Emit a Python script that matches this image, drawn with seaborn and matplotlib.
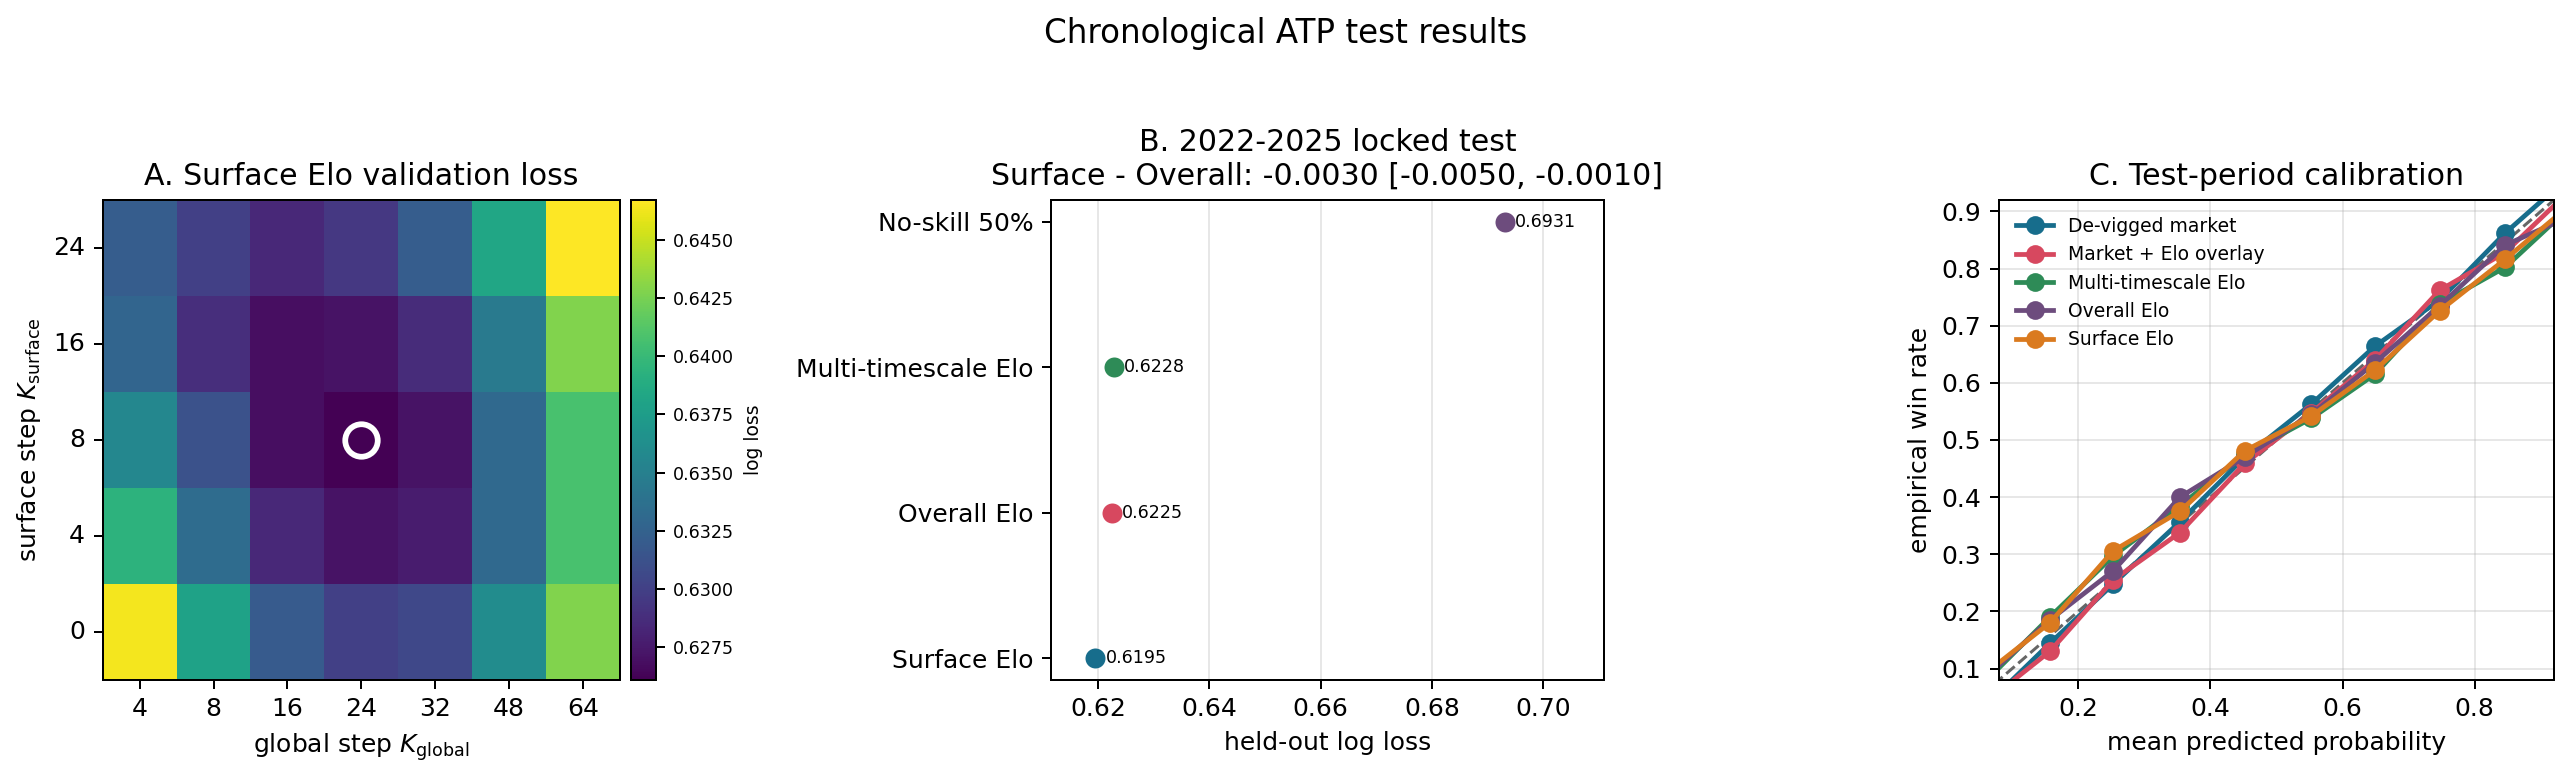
import numpy as np
import pandas as pd
import matplotlib
matplotlib.use("Agg")
import matplotlib.pyplot as plt
from matplotlib.ticker import MultipleLocator, FormatStrFormatter
import seaborn as sns

# --- A: surface Elo validation grid (rows = surface step, bottom to top)
k_global = [4, 8, 16, 24, 32, 48, 64]
k_surface = [0, 4, 8, 16, 24]
loss_ks0 = [0.6463, 0.6380, 0.6319, 0.6300, 0.6306, 0.6360, 0.6428]
loss_ks4 = [0.6393, 0.6333, 0.6284, 0.6271, 0.6277, 0.6331, 0.6407]
loss_ks8 = [0.6356, 0.6313, 0.6269, 0.6261, 0.6271, 0.6331, 0.6407]
loss_ks16 = [0.6327, 0.6288, 0.6269, 0.6271, 0.6286, 0.6345, 0.6428]
loss_ks24 = [0.6321, 0.6300, 0.6284, 0.6294, 0.6321, 0.6383, 0.6467]

# --- B: locked test log loss
test_models = ["Surface Elo", "Overall Elo", "Multi-timescale Elo", "No-skill 50%"]
test_loss = [0.6195, 0.6225, 0.6228, 0.6931]
diff_mean = -0.0030
diff_ci = [-0.0050, -0.0010]

# --- C: calibration bins
calib_models = ["De-vigged market", "Market + Elo overlay", "Multi-timescale Elo",
                "Overall Elo", "Surface Elo"]
bin_pred = [0.06, 0.157, 0.253, 0.354, 0.452, 0.553, 0.649, 0.747, 0.846, 0.94]
emp_market = [0.035, 0.144, 0.248, 0.357, 0.470, 0.563, 0.664, 0.745, 0.862, 0.958]
emp_overlay = [0.041, 0.130, 0.255, 0.338, 0.459, 0.548, 0.640, 0.762, 0.828, 0.932]
emp_multi = [0.078, 0.190, 0.297, 0.385, 0.475, 0.538, 0.615, 0.738, 0.802, 0.903]
emp_overall = [0.085, 0.185, 0.271, 0.400, 0.470, 0.545, 0.635, 0.735, 0.841, 0.889]
emp_surface = [0.092, 0.180, 0.306, 0.375, 0.481, 0.542, 0.622, 0.726, 0.816, 0.907]

palette = ["#176d8c", "#d7485f", "#2e8b57", "#6d4c7d", "#da7a1f"]

DPI = 180
fig = plt.figure(figsize=(2572 / DPI, 778 / DPI), dpi=DPI)
axA = fig.add_axes([0.0399, 0.126, 0.2012, 0.617])
cax = fig.add_axes([0.2453, 0.126, 0.0097, 0.617])
axB = fig.add_axes([0.4086, 0.126, 0.2150, 0.617])
axC = fig.add_axes([0.7772, 0.126, 0.2158, 0.617])

fig.suptitle("Chronological ATP test results", fontsize=13, y=0.957, va="center")

# ---------------- panel A
grid = pd.DataFrame([loss_ks0, loss_ks4, loss_ks8, loss_ks16, loss_ks24],
                    index=k_surface, columns=k_global).iloc[::-1]
sns.heatmap(grid, ax=axA, cmap="viridis", cbar_ax=cax, cbar_kws={"label": "log loss"})
r, c = np.unravel_index(np.argmin(grid.values), grid.shape)
axA.plot(c + 0.5, r + 0.5, "o", ms=13, mfc="none", mec="white", mew=2.3)
for sp in axA.spines.values():
    sp.set_visible(True)
    sp.set_linewidth(0.8)
axA.set_title("A. Surface Elo validation loss", fontsize=12)
axA.set_xlabel(r"global step $K_{\mathrm{global}}$", fontsize=10)
axA.set_ylabel(r"surface step $K_{\mathrm{surface}}$", fontsize=10)
axA.tick_params(axis="both", labelsize=10, rotation=0)
cb = axA.collections[0].colorbar
cb.outline.set_visible(True)
cb.outline.set_linewidth(0.8)
cb.outline.set_edgecolor("black")
cb.ax.yaxis.set_major_locator(MultipleLocator(0.0025))
cb.ax.yaxis.set_major_formatter(FormatStrFormatter("%.4f"))
cb.ax.tick_params(labelsize=7)
cb.set_label("log loss", fontsize=7.5)

# ---------------- panel B
dfB = pd.DataFrame({"model": test_models, "loss": test_loss})
order = test_models[::-1]
axB.set_axisbelow(True)
axB.grid(True, axis="x", alpha=0.3)
sns.stripplot(data=dfB, x="loss", y="model", hue="model", order=order,
              hue_order=test_models, palette=palette[:4], size=8, jitter=False,
              legend=False, ax=axB, zorder=3)
for m, v in zip(test_models, test_loss):
    axB.annotate(f"{v:.4f}", (v, order.index(m)), xytext=(4, 0),
                 textcoords="offset points", ha="left", va="center", fontsize=7)
axB.set_xlim(0.6115, 0.7109)
axB.set_ylim(len(order) - 1 + 0.15, -0.15)
axB.set_title("B. 2022-2025 locked test\nSurface - Overall: "
              f"{diff_mean:.4f} [{diff_ci[0]:.4f}, {diff_ci[1]:.4f}]", fontsize=12)
axB.set_xlabel("held-out log loss", fontsize=10)
axB.set_ylabel("")
axB.tick_params(labelsize=10)

# ---------------- panel C
rows = []
for name, emp in zip(calib_models, [emp_market, emp_overlay, emp_multi, emp_overall, emp_surface]):
    for p, e in zip(bin_pred, emp):
        rows.append({"model": name, "pred": p, "emp": e})
dfC = pd.DataFrame(rows)
axC.set_axisbelow(True)
axC.grid(True, alpha=0.3)
axC.plot([0, 1], [0, 1], ls="--", color="#666666", lw=1.2, zorder=1)
sns.lineplot(data=dfC, x="pred", y="emp", hue="model", hue_order=calib_models,
             palette=palette, marker="o", markersize=7.5, markeredgewidth=0,
             linewidth=1.9, ax=axC)
handles, labels = axC.get_legend_handles_labels()
axC.legend(handles, labels, loc="upper left", fontsize=7.5, frameon=False)
axC.set_xlim(0.08, 0.92)
axC.set_ylim(0.08, 0.92)
axC.xaxis.set_major_locator(MultipleLocator(0.2))
axC.yaxis.set_major_locator(MultipleLocator(0.1))
axC.set_title("C. Test-period calibration", fontsize=12)
axC.set_xlabel("mean predicted probability", fontsize=10)
axC.set_ylabel("empirical win rate", fontsize=10)
axC.tick_params(labelsize=10)

fig.savefig("out.png", dpi=DPI)
